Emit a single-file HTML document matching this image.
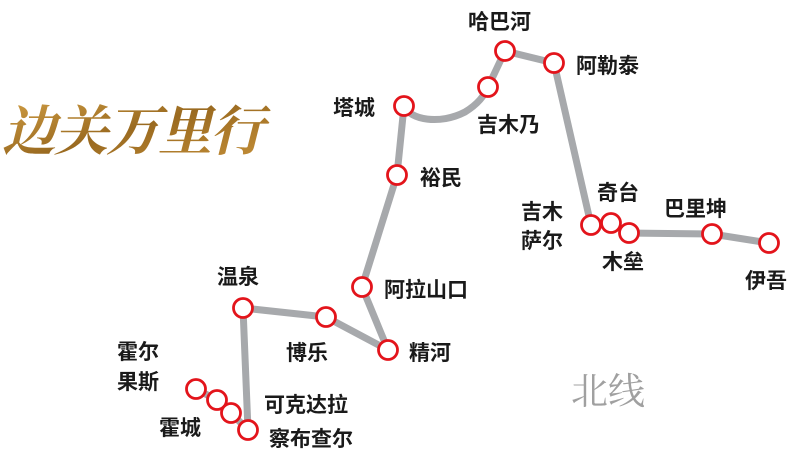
<!DOCTYPE html>
<html><head><meta charset="utf-8"><style>
html,body{margin:0;padding:0;background:#fff;}
svg{display:block;}
.l{font-family:"Liberation Sans","Noto Sans CJK SC",sans-serif;font-size:21px;fill:#1a1a1a;font-weight:bold;}
</style></head><body>
<svg width="800" height="458" viewBox="0 0 800 458" xmlns="http://www.w3.org/2000/svg">
<defs>
<linearGradient id="g" x1="0" y1="0" x2="1" y2="1">
<stop offset="0" stop-color="#d9a64a"/><stop offset="0.5" stop-color="#9a6a20"/><stop offset="1" stop-color="#c8923a"/>
</linearGradient>
</defs>
<text x="2" y="150" font-family="'Noto Serif CJK SC','Liberation Serif',serif" font-size="54" font-weight="bold" fill="url(#g)" font-style="italic" letter-spacing="-2">边关万里行</text>
<g fill="none" stroke="#a7a9ac" stroke-width="7" stroke-linecap="round" stroke-linejoin="round">
<polyline points="248,430 243,308 326,317 388,350 362,287 397,175 404,106"/>
<path d="M404,106 C410,120 440,125 465,112 C478,104 484,96 488,87 L505,51 L554,63 L591,225 L611,223 L629,233 L712,234 L769,243"/>
<polyline points="196,389 217,400 231,413 248,430"/>
</g>
<g fill="#fff" stroke="#e3141b" stroke-width="2.8">
<circle cx="505" cy="51" r="9.5"/><circle cx="554" cy="63" r="9.5"/><circle cx="488" cy="87" r="9.5"/>
<circle cx="404" cy="106" r="9.5"/><circle cx="397" cy="175" r="9.5"/><circle cx="362" cy="287" r="9.5"/>
<circle cx="388" cy="350" r="9.5"/><circle cx="326" cy="317" r="9.5"/><circle cx="243" cy="308" r="9.5"/>
<circle cx="196" cy="389" r="9.5"/><circle cx="217" cy="400" r="9.5"/><circle cx="231" cy="413" r="9.5"/><circle cx="248" cy="430" r="9.5"/>
<circle cx="591" cy="225" r="9.5"/><circle cx="611" cy="223" r="9.5"/><circle cx="629" cy="233" r="9.5"/>
<circle cx="712" cy="234" r="9.5"/><circle cx="769" cy="243" r="9.5"/>
</g>
<g class="l">
<text x="468" y="29">哈巴河</text>
<text x="576" y="73">阿勒泰</text>
<text x="477" y="132">吉木乃</text>
<text x="333" y="115">塔城</text>
<text x="420" y="185">裕民</text>
<text x="384" y="297">阿拉山口</text>
<text x="409" y="360">精河</text>
<text x="286" y="360">博乐</text>
<text x="217" y="284">温泉</text>
<text x="117" y="359">霍尔</text>
<text x="117" y="389">果斯</text>
<text x="159" y="435">霍城</text>
<text x="264" y="412">可克达拉</text>
<text x="269" y="446">察布查尔</text>
<text x="521" y="219">吉木</text>
<text x="521" y="248">萨尔</text>
<text x="597" y="200">奇台</text>
<text x="664" y="216">巴里坤</text>
<text x="602" y="269">木垒</text>
<text x="745" y="288">伊吾</text>
</g>
<text x="571" y="404" font-family="'Noto Serif CJK SC','Liberation Serif',serif" font-size="37" fill="#a0a0a0">北线</text>
</svg>
</body></html>
